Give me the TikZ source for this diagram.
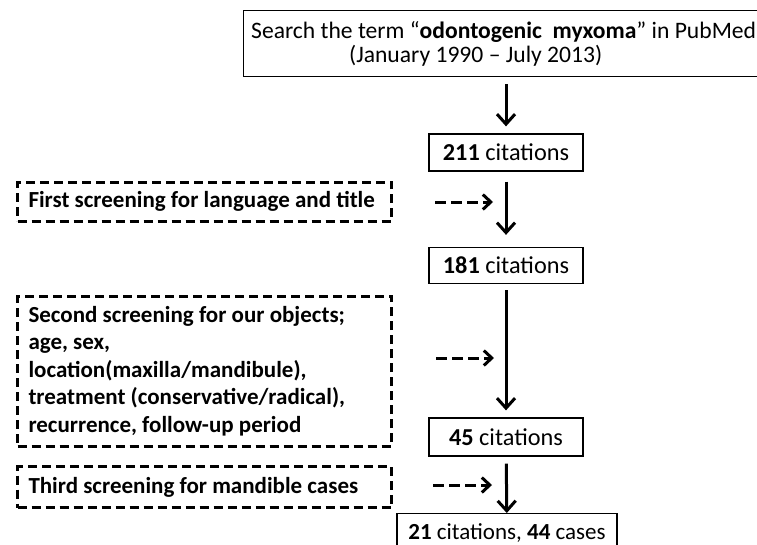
\documentclass[tikz,border=0pt]{standalone}
\usepackage{fontspec}
\setmainfont{Carlito}
\usetikzlibrary{arrows.meta,positioning}
\tikzset{
  box/.style={draw,line width=1.3pt,inner sep=0pt,align=flush center},
  dbox/.style={draw,line width=3pt,dash pattern=on 9pt off 5pt,anchor=west,
    inner xsep=11pt,inner ysep=0pt,text width=352pt,align=flush left,
    font=\fontsize{23}{27.5}\selectfont\bfseries},
  arr/.style={line width=3pt,-{Straight Barb[length=10pt,width=18pt]}},
  darr/.style={line width=3pt,dash pattern=on 11pt off 5pt,-{Straight Barb[length=8pt,width=15pt]}},
}
\begin{document}
\begin{tikzpicture}[x=1pt,y=-1pt,font=\fontsize{24.3}{24.5}\selectfont]
  \useasboundingbox (0,0) rectangle (757,544);
  \clip (0,0) rectangle (757,544);
  \node[box,anchor=north west,minimum width=520pt,minimum height=66pt,font=\fontsize{23.6}{24.5}\selectfont] (search) at (243,10)
    {Search the term “\textbf{odontogenic\ \ myxoma}” in PubMed\\\hspace*{-56pt}(January 1990 – July 2013)};
  \node[box,minimum width=154pt,minimum height=37pt] (c211) at (506,152.5) {\textbf{211} citations};
  \node[box,minimum width=154pt,minimum height=36pt] (c181) at (506,265.5) {\textbf{181} citations};
  \node[box,minimum width=154pt,minimum height=38pt] (c45) at (506,437) {\textbf{45} citations};
  \node[box,anchor=north,minimum width=220pt,minimum height=38pt,font=\fontsize{23}{24}\selectfont] (c21) at (507,513) {\textbf{21} citations, \textbf{44} cases};
  \node[dbox,minimum height=39pt] (scr1) at (16,201.5) {First screening for language and title};
  \node[dbox,minimum height=150pt] (scr2) at (16,371)
    {Second screening for our objects;\\age, sex,\\location(maxilla/mandibule),\\treatment (conservative/radical),\\recurrence, follow-up period};
  \node[dbox,minimum height=41pt] (scr3) at (16,487) {Third screening for mandible cases};
  \draw[arr,shorten <=7pt,shorten >=7pt] (search.south -| c211) -- (c211);
  \draw[arr,shorten <=10pt,shorten >=12pt] (c211) -- (c181);
  \draw[arr,shorten <=6pt,shorten >=7pt] (c181) -- (c45);
  \draw[arr,shorten <=7pt] (c45) -- (c21);
  \coordinate (t1) at (435,202);
  \coordinate (t2) at (436,358);
  \coordinate (t3) at (433,485);
  \draw[darr,shorten >=13pt] (t1) -- (t1 -| c211);
  \draw[darr,shorten >=12pt] (t2) -- (t2 -| c211);
  \draw[darr,shorten >=14pt] (t3) -- (t3 -| c211);
\end{tikzpicture}
\end{document}
